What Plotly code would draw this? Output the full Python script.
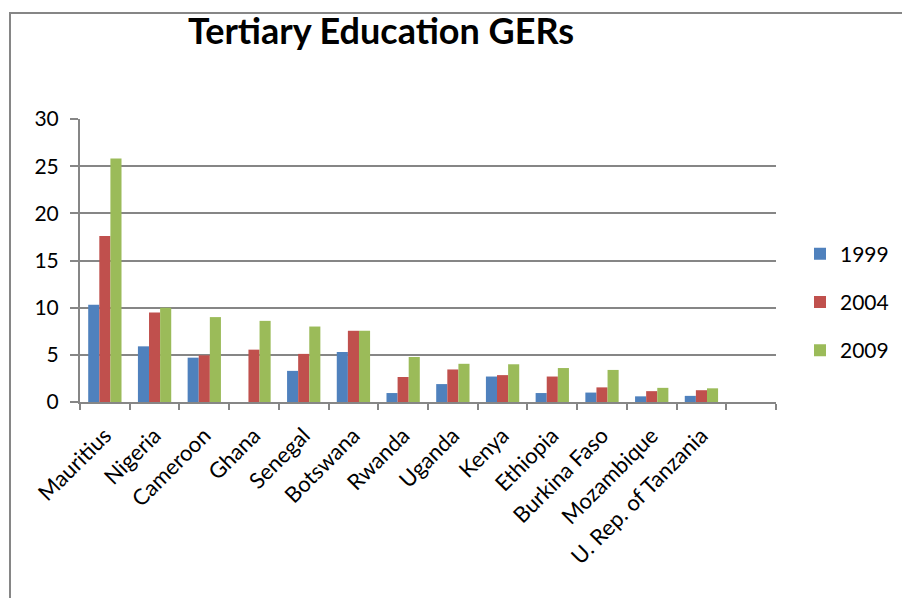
import plotly.graph_objects as go

countries = ["Mauritius", "Nigeria", "Cameroon", "Ghana", "Senegal", "Botswana",
             "Rwanda", "Uganda", "Kenya", "Ethiopia", "Burkina Faso", "Mozambique",
             "U. Rep. of Tanzania", " "]
v1999 = [10.3, 5.9, 4.7, None, 3.3, 5.3, 0.95, 1.9, 2.7, 0.95, 1.0, 0.6, 0.65, None]
v2004 = [17.6, 9.5, 4.95, 5.55, 5.1, 7.55, 2.65, 3.45, 2.85, 2.7, 1.55, 1.15, 1.25, None]
v2009 = [25.8, 10.0, 9.0, 8.6, 8.0, 7.55, 4.77, 4.05, 4.0, 3.6, 3.4, 1.5, 1.45, None]
years = ["1999", "2004", "2009"]
colors = ["#4F81BD", "#C0504D", "#9BBB59"]

FONT = "Lato"
fig = go.Figure()
for name, vals, c in zip(years, [v1999, v2004, v2009], colors):
    fig.add_trace(go.Bar(x=countries, y=vals, name=name, legendgroup=name,
                         marker=dict(color=c, line=dict(width=0))))

L, R, T, B = 80, 776, 119, 402
W, H = 902, 598
def px(x):
    return (x - L) / (R - L)
def py(y):
    return (B - y) / (B - T)

fig.update_layout(
    width=W, height=H,
    margin=dict(l=L, r=W - R, t=T, b=H - B),
    paper_bgcolor="white", plot_bgcolor="white",
    barmode="group", bargap=0.33, bargroupgap=0,
    font=dict(family=FONT, color="black"),
    title=dict(text="<b>Tertiary Education GERs</b>", x=381 / W, xanchor="center",
               y=1 - 31 / H, yanchor="middle",
               font=dict(family=FONT, size=36, color="black")),
    legend=dict(xref="container", yref="container", x=800 / W, xanchor="left",
                y=1 - 302 / H, yanchor="middle",
                font=dict(family=FONT, size=21), tracegroupgap=18,
                bgcolor="rgba(0,0,0,0)"),
    xaxis=dict(type="category", categoryorder="array", categoryarray=countries,
               tickson="boundaries", ticks="outside", ticklen=6, tickwidth=2,
               tickcolor="#868686", showline=True, linecolor="#868686", linewidth=2,
               tickangle=-45, tickfont=dict(family=FONT, size=22, color="black"),
               ticklabelstandoff=10,
               showgrid=False, automargin=False),
    yaxis=dict(range=[0, 30], dtick=5, ticks="outside", ticklen=8, tickwidth=2,
               tickcolor="#868686", showline=True, linecolor="#868686", linewidth=2,
               showgrid=True, gridcolor="#868686", gridwidth=2, zeroline=False,
               ticklabelstandoff=7, automargin=False,
               tickfont=dict(family=FONT, size=21, color="black")),
    shapes=[dict(type="rect", xref="paper", yref="paper",
                 x0=px(10), x1=px(910), y0=py(620), y1=py(13),
                 line=dict(color="#868686", width=2), layer="below")],
)
fig.write_html("out.html")
